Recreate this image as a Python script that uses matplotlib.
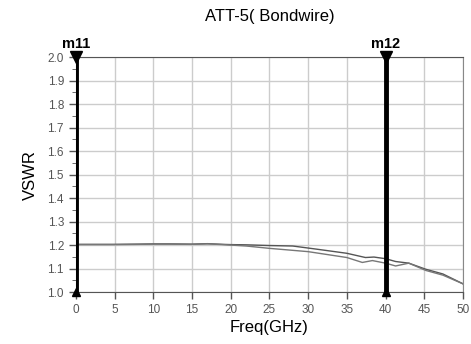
import numpy as np
import matplotlib.pyplot as plt
from matplotlib.ticker import MultipleLocator

plt.rcParams['font.family'] = ['Liberation Sans', 'DejaVu Sans']

# VSWR traces
freq1 = [0, 2, 5, 8, 10, 12, 15, 17, 19, 20, 22, 25, 28, 31, 35, 37.4, 38.5, 40, 41.3, 43, 45.2, 47.4, 50]
vswr1 = [1.203, 1.203, 1.203, 1.204, 1.205, 1.205, 1.204, 1.206, 1.203, 1.202, 1.201, 1.198, 1.196, 1.183, 1.165, 1.147, 1.149, 1.142, 1.130, 1.123, 1.097, 1.077, 1.035]
freq2 = [0, 2, 5, 8, 10, 12, 15, 17, 19, 20, 22, 25, 30, 35, 37, 38.3, 40, 41.3, 43, 45.2, 47.4, 50]
vswr2 = [1.202, 1.202, 1.202, 1.203, 1.204, 1.204, 1.203, 1.205, 1.202, 1.200, 1.196, 1.186, 1.172, 1.147, 1.126, 1.134, 1.123, 1.111, 1.123, 1.092, 1.072, 1.035]

markers = {'m11': 0, 'm12': 40}

fig = plt.figure(figsize=(4.71, 3.44), dpi=100)
ax = fig.add_axes([0.161, 0.151, 0.822, 0.683])

ax.plot(freq1, vswr1, color='#555555', lw=1.0)
ax.plot(freq2, vswr2, color='#777777', lw=1.0)

for name, xm in markers.items():
    ax.axvline(xm, color='black', lw=3.5, zorder=5)
    ax.plot([xm], [2.0], marker='v', color='black', ms=8, clip_on=False, zorder=6)
    ax.plot([xm], [1.0], marker='^', color='black', ms=6, clip_on=False, zorder=6)
    ax.text(xm, 2.025, name, ha='center', va='bottom', fontsize=10.5, fontweight='bold')

ax.set_xlim(0, 50)
ax.set_ylim(1.0, 2.0)
ax.xaxis.set_major_locator(MultipleLocator(5))
ax.yaxis.set_major_locator(MultipleLocator(0.1))
ax.yaxis.set_minor_locator(MultipleLocator(0.05))
ax.yaxis.set_major_formatter(plt.FuncFormatter(lambda v, p: f'{v:.1f}'))
ax.grid(True, which='major', color='#cccccc', lw=1.0)
ax.tick_params(axis='both', which='major', labelsize=8.5, colors='#555555', length=5, width=1)
ax.tick_params(axis='y', which='minor', length=3, color='#555555')
for s in ax.spines.values():
    s.set_color('#888888')
ax.spines['top'].set_color('#555555')
ax.spines['bottom'].set_color('#555555')

ax.set_title('ATT-5( Bondwire)', fontsize=12, pad=26, x=0.5)
ax.set_xlabel('Freq(GHz)', fontsize=12, labelpad=3)
ax.set_ylabel('VSWR', fontsize=12, labelpad=7)

fig.savefig('out.png', dpi=100)
